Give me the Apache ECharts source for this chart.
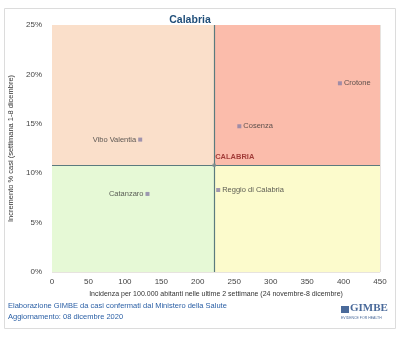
<!DOCTYPE html>
<html><head><meta charset="utf-8">
<script src="https://cdn.jsdelivr.net/npm/echarts@6/dist/echarts.min.js"></script>
<style>html,body{margin:0;padding:0;background:#fff}#c{width:400px;height:338px}</style>
</head><body><div id="c"></div>
<script>
const provinces = ["Crotone","Cosenza","Vibo Valentia","Catanzaro","Reggio di Calabria"];
const incidence = [395, 257, 121, 131, 228];
const increase = [19.1, 14.75, 13.4, 7.9, 8.3];
const labelSide = ["right","right","left","left","right"];
const regionName = "CALABRIA";
const regionIncidence = 222.5;
const regionIncrease = 10.8;
const xMax = 450, yMax = 25;

const chart = echarts.init(document.getElementById('c'), null, {renderer:'canvas'});
const font = 'Liberation Sans, Arial, sans-serif';
chart.setOption({
  animation:false,
  title:{text:'Calabria', left:185, top:10, textAlign:'center',
    textStyle:{fontFamily:font, fontSize:10.5, fontWeight:'bold', color:'#1f4e79'}},
  grid:{left:52, right:20, top:25, bottom:66, outerBoundsMode:'none', containLabel:false},
  xAxis:{type:'value', min:0, max:xMax, interval:50,
    name:'Incidenza per 100.000 abitanti nelle ultime 2 settimane (24 novembre-8 dicembre)',
    nameLocation:'middle', nameGap:17,
    nameTextStyle:{fontFamily:font, fontSize:7, color:'#333'},
    axisLine:{show:false}, axisTick:{show:false},
    axisLabel:{fontFamily:font, fontSize:8, color:'#444', margin:6},
    splitLine:{lineStyle:{color:'rgba(120,100,80,0.18)', width:1}}},
  yAxis:{type:'value', min:0, max:yMax, interval:5,
    name:'Incremento % casi (settimana 1-8 dicembre)',
    nameLocation:'middle', nameGap:33, nameRotate:90,
    nameTextStyle:{fontFamily:font, fontSize:7.5, color:'#333'},
    axisLine:{show:false}, axisTick:{show:false},
    axisLabel:{fontFamily:font, fontSize:8, color:'#444', formatter:'{value}%', margin:10},
    splitLine:{lineStyle:{color:'rgba(120,100,80,0.18)', width:1}}},
  series:[
    {type:'scatter', symbol:'rect', symbolSize:4, z:5,
      itemStyle:{color:'#8a7fa6'},
      data: provinces.map((p,i)=>({name:p, value:[incidence[i], increase[i]],
        label:{position:labelSide[i]}})),
      label:{show:true, formatter:'{b}', fontFamily:font, fontSize:7.5, color:'#333', distance:2},
      markArea:{silent:true, z:0, data:[
        [{coord:[0, regionIncrease], itemStyle:{color:'#fadfca'}},{coord:[regionIncidence, yMax]}],
        [{coord:[regionIncidence, regionIncrease], itemStyle:{color:'#fbbcab'}},{coord:[xMax, yMax]}],
        [{coord:[0, 0], itemStyle:{color:'#e6f9d6'}},{coord:[regionIncidence, regionIncrease]}],
        [{coord:[regionIncidence, 0], itemStyle:{color:'#fcfbcc'}},{coord:[xMax, regionIncrease]}]
      ]},
      markLine:{silent:true, symbol:'none', label:{show:false},
        lineStyle:{color:'#5b7b7e', width:1.2, type:'solid'},
        data:[{xAxis:regionIncidence},{yAxis:regionIncrease}]}
    },
    {type:'scatter', symbol:'circle', symbolSize:4, z:6,
      itemStyle:{color:'#7f8f90'},
      data:[{name:regionName, value:[regionIncidence, regionIncrease]}],
      label:{show:true, formatter:'{b}', position:[3,-10], fontFamily:font, fontSize:7.5,
        fontWeight:'bold', color:'#8b1a1a'}}
  ],
  graphic:[
    {type:'rect', shape:{x:4.5, y:8.5, width:391, height:320}, z:-1,
      style:{fill:'none', stroke:'#dcdcdc', lineWidth:1}},
    {type:'text', left:8, top:302, style:{text:'Elaborazione GIMBE da casi confermati dal Ministero della Salute',
      font:'7.5px '+font, fill:'#2a5fa5'}},
    {type:'text', left:8, top:313, style:{text:'Aggiornamento: 08 dicembre 2020',
      font:'7.5px '+font, fill:'#2a5fa5'}},
    {type:'rect', shape:{x:341, y:306, width:8, height:7}, style:{fill:'#4a6a9a'}},
    {type:'text', left:350, top:303, style:{text:'GIMBE', font:'bold 11px Liberation Serif, serif', fill:'#4a6a9a'}},
    {type:'text', left:341, top:316, style:{text:'EVIDENCE FOR HEALTH', font:'3.5px '+font, fill:'#4a6a9a'}}
  ]
});
</script></body></html>
